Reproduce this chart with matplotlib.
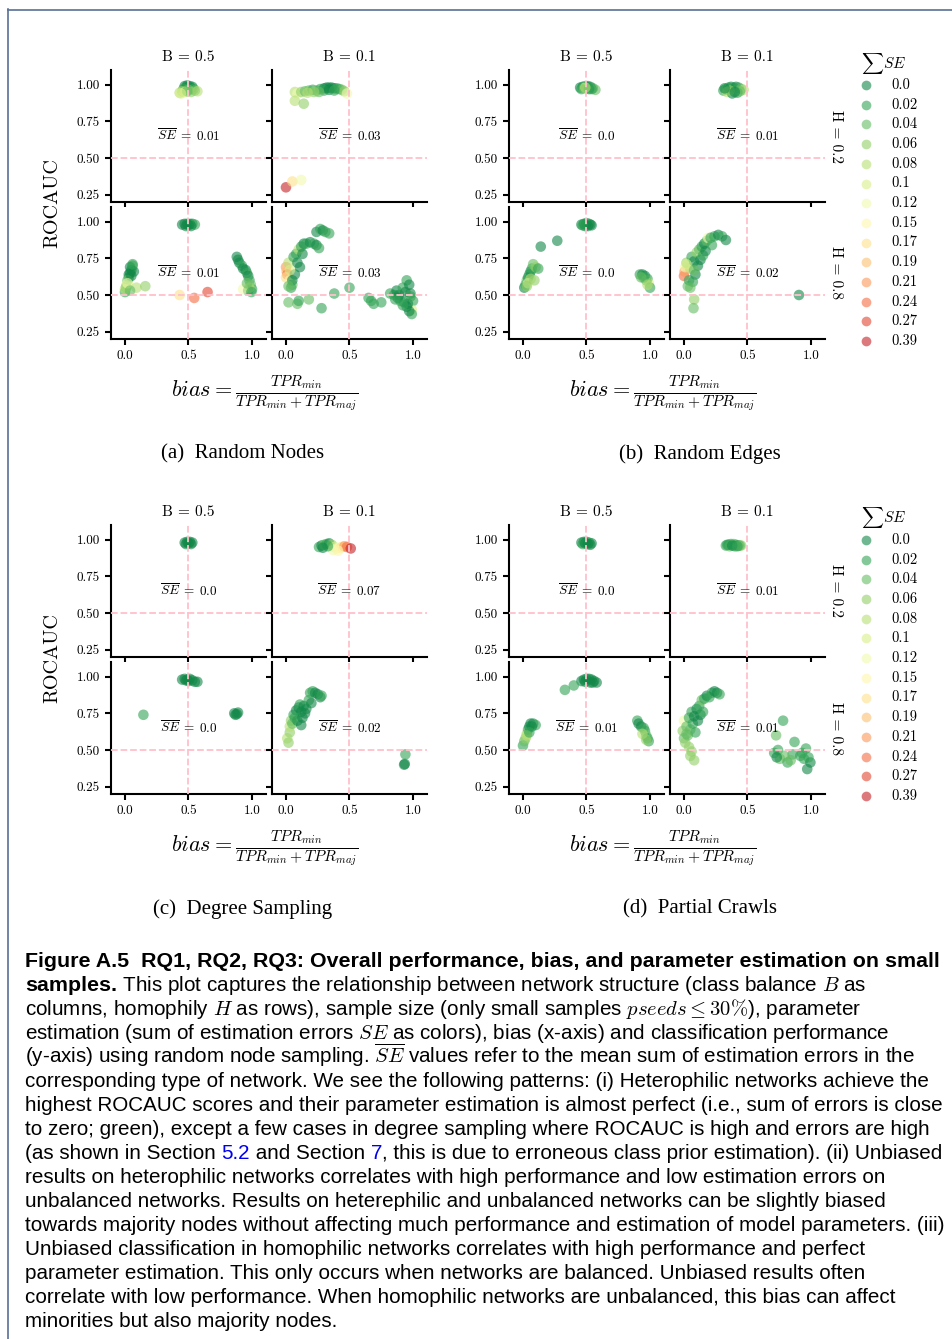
import matplotlib
matplotlib.use('Agg')
import matplotlib.pyplot as plt
import numpy as np
from matplotlib.lines import Line2D

W, H = 953, 1339
plt.rcParams['font.family'] = 'serif'
plt.rcParams['font.serif'] = ['cmr10']
plt.rcParams['mathtext.fontset'] = 'cm'
plt.rcParams['axes.formatter.use_mathtext'] = True
plt.rcParams['axes.unicode_minus'] = False

# ---------------- data ----------------
SE_LEVELS = [0.0, 0.02, 0.04, 0.06, 0.08, 0.1, 0.12, 0.15, 0.17, 0.19, 0.21, 0.24, 0.27, 0.39]
SE_LABELS = ['0.0', '0.02', '0.04', '0.06', '0.08', '0.1', '0.12', '0.15', '0.17', '0.19', '0.21', '0.24', '0.27', '0.39']
B_LEVELS = ['B = 0.5', 'B = 0.1']
H_LEVELS = ['H = 0.2', 'H = 0.8']
X_TICKS = [0.0, 0.5, 1.0]
X_TICKLABELS = ['0.0', '0.5', '1.0']
Y_TICKS = [0.25, 0.50, 0.75, 1.00]
Y_TICKLABELS = ['0.25', '0.50', '0.75', '1.00']

# Random Nodes
rn_h02_b05_x = [0.47, 0.49, 0.51, 0.53, 0.48, 0.50, 0.52, 0.46, 0.54, 0.50, 0.45, 0.55, 0.43, 0.47, 0.57, 0.52, 0.49, 0.44]
rn_h02_b05_y = [0.99, 0.995, 0.99, 0.985, 0.98, 0.975, 0.975, 0.97, 0.97, 0.965, 0.955, 0.96, 0.945, 0.95, 0.955, 0.95, 0.955, 0.94]
rn_h02_b05_se = [0.0, 0.0, 0.0, 0.0, 0.0, 0.02, 0.0, 0.02, 0.02, 0.04, 0.06, 0.04, 0.08, 0.1, 0.08, 0.06, 0.04, 0.1]

rn_h02_b01_x = [0.07, 0.09, 0.12, 0.15, 0.18, 0.21, 0.24, 0.27, 0.30, 0.32, 0.34, 0.36, 0.38, 0.40, 0.42, 0.44, 0.46, 0.48, 0.30, 0.34, 0.38, 0.26, 0.22, 0.17, 0.07, 0.14, 0.0, 0.05, 0.12]
rn_h02_b01_y = [0.95, 0.94, 0.95, 0.955, 0.96, 0.965, 0.96, 0.97, 0.975, 0.98, 0.98, 0.98, 0.975, 0.975, 0.97, 0.965, 0.955, 0.94, 0.96, 0.965, 0.96, 0.95, 0.95, 0.945, 0.89, 0.87, 0.30, 0.34, 0.35]
rn_h02_b01_se = [0.08, 0.12, 0.06, 0.04, 0.04, 0.02, 0.04, 0.02, 0.0, 0.0, 0.0, 0.0, 0.0, 0.02, 0.02, 0.04, 0.06, 0.12, 0.02, 0.0, 0.02, 0.04, 0.06, 0.08, 0.08, 0.06, 0.39, 0.17, 0.12]

rn_h08_b05_x = [0.45, 0.47, 0.49, 0.51, 0.53, 0.55, 0.48, 0.52, 0.50,
                0.0, 0.01, 0.02, 0.03, 0.04, 0.05, 0.06, 0.04, 0.03, 0.02, 0.05, 0.07, 0.06, 0.01, 0.0, 0.02, 0.09, 0.16, 0.04,
                0.43, 0.545, 0.65,
                0.88, 0.89, 0.90, 0.92, 0.93, 0.95, 0.96, 0.97, 0.98, 0.99, 1.0, 0.97, 0.93, 0.98, 0.995, 0.96]
rn_h08_b05_y = [0.98, 0.985, 0.985, 0.985, 0.985, 0.98, 0.97, 0.97, 0.975,
                0.52, 0.55, 0.58, 0.62, 0.65, 0.67, 0.70, 0.69, 0.64, 0.60, 0.63, 0.66, 0.71, 0.56, 0.54, 0.58, 0.55, 0.56, 0.53,
                0.50, 0.48, 0.52,
                0.76, 0.74, 0.72, 0.70, 0.68, 0.67, 0.65, 0.63, 0.60, 0.57, 0.54, 0.53, 0.54, 0.55, 0.52, 0.58]
rn_h08_b05_se = [0.0, 0.0, 0.0, 0.0, 0.0, 0.02, 0.0, 0.0, 0.0,
                 0.02, 0.04, 0.1, 0.02, 0.0, 0.0, 0.02, 0.0, 0.0, 0.04, 0.0, 0.0, 0.02, 0.06, 0.08, 0.12, 0.08, 0.06, 0.04,
                 0.17, 0.24, 0.27,
                 0.0, 0.0, 0.0, 0.02, 0.0, 0.0, 0.02, 0.0, 0.02, 0.04, 0.02, 0.0, 0.12, 0.08, 0.02, 0.04]

rn_h08_b01_x = [0.0, 0.005, 0.01, 0.0, 0.02, 0.03, 0.05, 0.06, 0.08, 0.10, 0.12, 0.14, 0.16, 0.19, 0.22, 0.24, 0.26, 0.24, 0.27, 0.29, 0.31, 0.34, 0.11, 0.07, 0.05, 0.04, 0.02, 0.09, 0.13, 0.03,
                0.02, 0.09, 0.10, 0.18, 0.28, 0.38, 0.50, 0.65, 0.67, 0.69, 0.75,
                0.82, 0.85, 0.87, 0.89, 0.92, 0.94, 0.95, 0.97, 0.98, 1.0, 0.99, 0.96, 0.93, 0.90, 0.88, 0.86, 0.99, 0.97, 0.95, 0.92, 0.98]
rn_h08_b01_y = [0.69, 0.66, 0.64, 0.62, 0.72, 0.60, 0.57, 0.76, 0.78, 0.81, 0.83, 0.85, 0.85, 0.86, 0.85, 0.84, 0.82, 0.93, 0.95, 0.94, 0.93, 0.92, 0.69, 0.64, 0.60, 0.55, 0.56, 0.72, 0.78, 0.67,
                0.45, 0.44, 0.46, 0.47, 0.41, 0.51, 0.55, 0.48, 0.46, 0.44, 0.45,
                0.51, 0.50, 0.53, 0.50, 0.55, 0.52, 0.60, 0.57, 0.51, 0.46, 0.40, 0.44, 0.45, 0.46, 0.48, 0.47, 0.37, 0.39, 0.42, 0.43, 0.49]
rn_h08_b01_se = [0.21, 0.19, 0.24, 0.17, 0.08, 0.12, 0.04, 0.02, 0.02, 0.08, 0.02, 0.0, 0.02, 0.0, 0.02, 0.0, 0.02, 0.0, 0.02, 0.0, 0.02, 0.02, 0.0, 0.0, 0.0, 0.02, 0.04, 0.0, 0.0, 0.1,
                 0.04, 0.04, 0.02, 0.04, 0.02, 0.02, 0.02, 0.02, 0.02, 0.02, 0.02,
                 0.02, 0.02, 0.0, 0.0, 0.02, 0.0, 0.02, 0.0, 0.0, 0.02, 0.1, 0.0, 0.0, 0.02, 0.0, 0.02, 0.02, 0.0, 0.0, 0.02, 0.02]

# Random Edges
re_h02_b05_x = [0.45, 0.47, 0.49, 0.51, 0.53, 0.55, 0.57, 0.48, 0.50, 0.52, 0.46, 0.54, 0.49]
re_h02_b05_y = [0.98, 0.985, 0.99, 0.99, 0.985, 0.975, 0.965, 0.975, 0.975, 0.97, 0.97, 0.97, 0.98]
re_h02_b05_se = [0.0, 0.0, 0.02, 0.0, 0.0, 0.02, 0.04, 0.1, 0.06, 0.0, 0.02, 0.02, 0.08]

re_h02_b01_x = [0.31, 0.33, 0.35, 0.37, 0.39, 0.41, 0.43, 0.45, 0.47, 0.34, 0.38, 0.42, 0.36, 0.44, 0.32, 0.40]
re_h02_b01_y = [0.96, 0.97, 0.98, 0.985, 0.98, 0.985, 0.98, 0.97, 0.965, 0.95, 0.94, 0.945, 0.96, 0.955, 0.975, 0.95]
re_h02_b01_se = [0.02, 0.04, 0.02, 0.0, 0.02, 0.0, 0.02, 0.04, 0.08, 0.08, 0.0, 0.02, 0.06, 0.04, 0.0, 0.0]

re_h08_b05_x = [0.46, 0.48, 0.50, 0.52, 0.54, 0.49, 0.51, 0.47, 0.53,
                0.14, 0.27,
                0.01, 0.02, 0.03, 0.04, 0.05, 0.06, 0.07, 0.08, 0.10, 0.12, 0.04, 0.06, 0.03, 0.09,
                0.92, 0.94, 0.96, 0.98, 0.99, 1.0, 0.97, 0.95, 0.98, 0.93]
re_h08_b05_y = [0.98, 0.985, 0.99, 0.985, 0.975, 0.97, 0.97, 0.975, 0.98,
                0.83, 0.87,
                0.55, 0.57, 0.60, 0.62, 0.64, 0.66, 0.68, 0.71, 0.69, 0.68, 0.58, 0.61, 0.56, 0.60,
                0.64, 0.64, 0.63, 0.61, 0.58, 0.55, 0.60, 0.62, 0.57, 0.62]
re_h08_b05_se = [0.0, 0.0, 0.0, 0.02, 0.0, 0.0, 0.0, 0.02, 0.0,
                 0.0, 0.0,
                 0.0, 0.02, 0.04, 0.0, 0.02, 0.0, 0.02, 0.04, 0.06, 0.02, 0.12, 0.08, 0.06, 0.06,
                 0.02, 0.0, 0.0, 0.02, 0.1, 0.02, 0.04, 0.02, 0.08, 0.04]

re_h08_b01_x = [0.0, 0.005, 0.01, 0.02, 0.03, 0.04, 0.05, 0.06, 0.08, 0.09, 0.10, 0.12, 0.14, 0.16, 0.18, 0.19, 0.21, 0.24, 0.27, 0.30, 0.33, 0.11, 0.13, 0.15, 0.07, 0.05, 0.02, 0.08, 0.17, 0.22,
                0.08, 0.075, 0.905]
re_h08_b01_y = [0.63, 0.66, 0.69, 0.72, 0.56, 0.60, 0.68, 0.76, 0.73, 0.64, 0.79, 0.81, 0.83, 0.85, 0.87, 0.89, 0.89, 0.90, 0.91, 0.90, 0.875, 0.70, 0.74, 0.77, 0.59, 0.55, 0.71, 0.67, 0.80, 0.84,
                0.47, 0.41, 0.50]
re_h08_b01_se = [0.24, 0.21, 0.12, 0.06, 0.04, 0.02, 0.08, 0.02, 0.0, 0.0, 0.06, 0.04, 0.02, 0.0, 0.04, 0.12, 0.02, 0.02, 0.0, 0.02, 0.0, 0.0, 0.0, 0.02, 0.02, 0.04, 0.1, 0.04, 0.0, 0.02,
                 0.06, 0.04, 0.0]

# Degree Sampling
ds_h02_b05_x = [0.47, 0.49, 0.51, 0.53, 0.48, 0.52, 0.50]
ds_h02_b05_y = [0.98, 0.985, 0.985, 0.98, 0.97, 0.97, 0.975]
ds_h02_b05_se = [0.0, 0.0, 0.0, 0.0, 0.0, 0.0, 0.0]

ds_h02_b01_x = [0.26, 0.28, 0.30, 0.32, 0.34, 0.36, 0.38, 0.40, 0.42, 0.44, 0.46, 0.48, 0.51, 0.37, 0.41, 0.33, 0.29]
ds_h02_b01_y = [0.95, 0.96, 0.965, 0.97, 0.975, 0.965, 0.95, 0.94, 0.945, 0.95, 0.955, 0.95, 0.94, 0.93, 0.925, 0.955, 0.945]
ds_h02_b01_se = [0.02, 0.0, 0.04, 0.02, 0.0, 0.06, 0.1, 0.12, 0.15, 0.17, 0.21, 0.24, 0.39, 0.12, 0.15, 0.02, 0.0]

ds_h08_b05_x = [0.145, 0.45, 0.47, 0.49, 0.51, 0.53, 0.55, 0.57, 0.50, 0.48, 0.86, 0.88, 0.89, 0.87]
ds_h08_b05_y = [0.74, 0.98, 0.985, 0.98, 0.985, 0.975, 0.965, 0.965, 0.97, 0.975, 0.75, 0.745, 0.755, 0.74]
ds_h08_b05_se = [0.02, 0.0, 0.0, 0.0, 0.0, 0.0, 0.0, 0.0, 0.0, 0.0, 0.0, 0.0, 0.0, 0.0]

ds_h08_b01_x = [0.01, 0.02, 0.03, 0.03, 0.04, 0.05, 0.06, 0.08, 0.10, 0.11, 0.12, 0.14, 0.16, 0.18, 0.19, 0.21, 0.23, 0.25, 0.27, 0.28, 0.09, 0.12, 0.07, 0.15, 0.20, 0.13,
                0.94, 0.93, 0.935]
ds_h08_b01_y = [0.58, 0.55, 0.62, 0.66, 0.70, 0.68, 0.74, 0.77, 0.79, 0.81, 0.76, 0.80, 0.78, 0.84, 0.89, 0.90, 0.89, 0.88, 0.86, 0.87, 0.70, 0.67, 0.72, 0.75, 0.82, 0.72,
                0.47, 0.40, 0.405]
ds_h08_b01_se = [0.08, 0.06, 0.06, 0.08, 0.06, 0.04, 0.02, 0.0, 0.0, 0.02, 0.0, 0.0, 0.0, 0.02, 0.02, 0.02, 0.0, 0.0, 0.0, 0.02, 0.0, 0.0, 0.02, 0.0, 0.0, 0.0,
                 0.02, 0.0, 0.0]

# Partial Crawls
pc_h02_b05_x = [0.46, 0.48, 0.50, 0.52, 0.54, 0.47, 0.51, 0.53, 0.49]
pc_h02_b05_y = [0.98, 0.985, 0.985, 0.98, 0.975, 0.97, 0.97, 0.965, 0.975]
pc_h02_b05_se = [0.0, 0.0, 0.0, 0.02, 0.0, 0.02, 0.0, 0.0, 0.0]

pc_h02_b01_x = [0.33, 0.35, 0.37, 0.39, 0.41, 0.43, 0.45, 0.36, 0.40, 0.44, 0.34, 0.38, 0.42]
pc_h02_b01_y = [0.96, 0.965, 0.97, 0.97, 0.965, 0.96, 0.96, 0.955, 0.955, 0.96, 0.965, 0.96, 0.955]
pc_h02_b01_se = [0.02, 0.0, 0.02, 0.04, 0.02, 0.0, 0.06, 0.04, 0.02, 0.04, 0.02, 0.0, 0.02]

pc_h08_b05_x = [0.46, 0.48, 0.50, 0.52, 0.54, 0.56, 0.58, 0.49, 0.53, 0.55, 0.33, 0.40,
                0.0, 0.01, 0.02, 0.03, 0.04, 0.05, 0.06, 0.08, 0.10, 0.07, 0.03, 0.05,
                0.90, 0.91, 0.93, 0.95, 0.96, 0.97, 0.98, 0.99, 0.94, 0.97]
pc_h08_b05_y = [0.97, 0.98, 0.985, 0.985, 0.98, 0.97, 0.96, 0.965, 0.96, 0.96, 0.91, 0.94,
                0.53, 0.56, 0.58, 0.61, 0.64, 0.66, 0.68, 0.68, 0.67, 0.66, 0.60, 0.62,
                0.70, 0.68, 0.66, 0.65, 0.63, 0.60, 0.58, 0.56, 0.61, 0.57]
pc_h08_b05_se = [0.0, 0.0, 0.0, 0.0, 0.0, 0.0, 0.0, 0.0, 0.0, 0.0, 0.02, 0.02,
                 0.02, 0.04, 0.06, 0.08, 0.02, 0.0, 0.0, 0.0, 0.02, 0.0, 0.08, 0.02,
                 0.02, 0.0, 0.0, 0.02, 0.02, 0.04, 0.02, 0.02, 0.08, 0.06]

pc_h08_b01_x = [0.0, -0.01, 0.0, 0.01, 0.02, 0.03, 0.04, 0.05, 0.06, 0.07, 0.08, 0.10, 0.12, 0.14, 0.16, 0.18, 0.20, 0.22, 0.24, 0.26, 0.28, 0.09, 0.11, 0.13, 0.15, 0.04, 0.06, 0.02, 0.05, 0.08,
                0.78, 0.725, 0.71, 0.755, 0.815, 0.87, 0.96, 0.945, 0.995, 0.855, 0.915, 0.97, 0.74, 0.79, 0.84, 0.93, 0.98, 0.73]
pc_h08_b01_y = [0.70, 0.63, 0.58, 0.55, 0.66, 0.60, 0.72, 0.64, 0.76, 0.68, 0.73, 0.78, 0.80, 0.84, 0.85, 0.87, 0.86, 0.89, 0.90, 0.89, 0.88, 0.62, 0.70, 0.74, 0.76, 0.52, 0.49, 0.61, 0.46, 0.43,
                0.70, 0.60, 0.48, 0.44, 0.415, 0.555, 0.51, 0.44, 0.415, 0.47, 0.46, 0.37, 0.50, 0.46, 0.43, 0.48, 0.45, 0.45]
pc_h08_b01_se = [0.12, 0.06, 0.04, 0.06, 0.04, 0.04, 0.02, 0.04, 0.02, 0.02, 0.0, 0.0, 0.02, 0.04, 0.02, 0.0, 0.02, 0.02, 0.0, 0.0, 0.02, 0.02, 0.0, 0.0, 0.02, 0.06, 0.06, 0.04, 0.06, 0.06,
                 0.02, 0.04, 0.02, 0.04, 0.02, 0.02, 0.02, 0.02, 0.0, 0.02, 0.02, 0.0, 0.02, 0.04, 0.04, 0.02, 0.02, 0.0]

# mean SE annotations [row H][col B]
rn_se_mean = [['0.01', '0.03'], ['0.01', '0.03']]
re_se_mean = [['0.0', '0.01'], ['0.0', '0.02']]
ds_se_mean = [['0.0', '0.07'], ['0.0', '0.02']]
pc_se_mean = [['0.0', '0.01'], ['0.01', '0.01']]

# ---------------- figure ----------------
fig = plt.figure(figsize=(W / 100, H / 100), dpi=100)

cmap = plt.get_cmap('RdYlGn_r')
palette = cmap(np.linspace(0, 1, len(SE_LEVELS) + 2)[1:-1])
ALPHA = 0.6


def se_colors(values):
    lv = np.array(SE_LEVELS)
    return [palette[int(np.argmin(np.abs(lv - v)))] for v in values]


def fx(x):
    return x / W


def fy(y):
    return 1 - y / H


groups = [
    dict(label='(a)  Random Nodes', dx=0, dy=0, ylabel=True, side=False, means=rn_se_mean,
         panels=[[(rn_h02_b05_x, rn_h02_b05_y, rn_h02_b05_se), (rn_h02_b01_x, rn_h02_b01_y, rn_h02_b01_se)],
                 [(rn_h08_b05_x, rn_h08_b05_y, rn_h08_b05_se), (rn_h08_b01_x, rn_h08_b01_y, rn_h08_b01_se)]]),
    dict(label='(b)  Random Edges', dx=398, dy=0, ylabel=False, side=True, means=re_se_mean,
         panels=[[(re_h02_b05_x, re_h02_b05_y, re_h02_b05_se), (re_h02_b01_x, re_h02_b01_y, re_h02_b01_se)],
                 [(re_h08_b05_x, re_h08_b05_y, re_h08_b05_se), (re_h08_b01_x, re_h08_b01_y, re_h08_b01_se)]]),
    dict(label='(c)  Degree Sampling', dx=0, dy=455, ylabel=True, side=False, means=ds_se_mean,
         panels=[[(ds_h02_b05_x, ds_h02_b05_y, ds_h02_b05_se), (ds_h02_b01_x, ds_h02_b01_y, ds_h02_b01_se)],
                 [(ds_h08_b05_x, ds_h08_b05_y, ds_h08_b05_se), (ds_h08_b01_x, ds_h08_b01_y, ds_h08_b01_se)]]),
    dict(label='(d)  Partial Crawls', dx=398, dy=455, ylabel=False, side=True, means=pc_se_mean,
         panels=[[(pc_h02_b05_x, pc_h02_b05_y, pc_h02_b05_se), (pc_h02_b01_x, pc_h02_b01_y, pc_h02_b01_se)],
                 [(pc_h08_b05_x, pc_h08_b05_y, pc_h08_b05_se), (pc_h08_b01_x, pc_h08_b01_y, pc_h08_b01_se)]]),
]

COLS = [(111, 266), (272, 427)]
ROWS = [(70, 202), (207, 339)]
TICK_FS = 9.5

for g in groups:
    dx, dy = g['dx'], g['dy']
    for r in range(2):
        for c in range(2):
            x0, x1 = COLS[c][0] + dx, COLS[c][1] + dx
            y0, y1 = ROWS[r][0] + dy, ROWS[r][1] + dy
            ax = fig.add_axes([fx(x0), fy(y1), (x1 - x0) / W, (y1 - y0) / H])
            xs, ys, ses = g['panels'][r][c]
            ax.scatter(xs, ys, s=58, c=se_colors(ses), alpha=ALPHA, linewidths=0, zorder=2)
            ax.axvline(0.5, color='pink', ls='--', lw=1.3, zorder=3)
            ax.axhline(0.5, color='pink', ls='--', lw=1.3, zorder=3)
            ax.set_xlim(-0.11, 1.11)
            ax.set_ylim(0.2, 1.1)
            ax.set_xticks(X_TICKS)
            ax.set_yticks(Y_TICKS)
            ax.set_xticklabels(X_TICKLABELS if r == 1 else [])
            ax.set_yticklabels(Y_TICKLABELS if c == 0 else [])
            for s in ['top', 'right']:
                ax.spines[s].set_visible(False)
            for s in ['left', 'bottom']:
                ax.spines[s].set_linewidth(1.5)
            ax.tick_params(direction='out', length=4, width=1.5, labelsize=TICK_FS, pad=4)
            ax.text(0.5, 0.5, r'$\overline{SE}\;=\;\mathrm{' + g['means'][r][c] + '}$', transform=ax.transAxes,
                    ha='center', va='center', fontsize=9.5, zorder=4)
            if r == 0:
                fig.text(fx((x0 + x1) / 2), fy(57 + dy), B_LEVELS[c], ha='center', va='center', fontsize=11)
            if c == 1 and g['side']:
                fig.text(fx(836), fy((y0 + y1) / 2), H_LEVELS[r], rotation=270, ha='center', va='center',
                         fontsize=11)
    if g['ylabel']:
        fig.text(fx(52), fy(203 + dy), 'ROCAUC', rotation=90, ha='center', va='center', fontsize=14.5)
    gx = (COLS[0][0] + COLS[1][1]) / 2 + dx - 4
    fig.text(fx(gx), fy(394 + dy), r'$bias = \frac{TPR_{min}}{TPR_{min}+TPR_{maj}}$', ha='center',
             va='center', fontsize=16)
    fig.text(fx(243 + dx * 1.149), fy(454 + dy), g['label'], family='Liberation Serif', fontsize=15,
             ha='center', va='center')
    if g['side']:
        fig.text(fx(884), fy(63 + dy), r'$\sum SE$', ha='center', va='center', fontsize=11)
        for i, lab in enumerate(SE_LABELS):
            yy = 85 + 19.7 * i + dy
            fig.add_artist(Line2D([fx(866)], [fy(yy)], marker='o', ms=7, ls='none', mew=0,
                                  color=palette[i], alpha=ALPHA, transform=fig.transFigure))
            fig.text(fx(891), fy(yy), lab, ha='left', va='center', fontsize=10.5)

# border lines
fig.add_artist(Line2D([fx(8), 1], [fy(9.5), fy(9.5)], color='#5a6f96', lw=1.2, transform=fig.transFigure))
fig.add_artist(Line2D([fx(8.5), fx(8.5)], [fy(9), 0], color='#5a6f96', lw=1.2, transform=fig.transFigure))

# ---------------- caption ----------------
renderer = fig.canvas.get_renderer()
CAP_FS = 14.85
reg = dict(family='Liberation Sans', fontsize=CAP_FS, color='black')
bold = dict(family='Liberation Sans', fontsize=15.4, color='black', weight='bold')
blue = dict(family='Liberation Sans', fontsize=CAP_FS, color='#0000ee')


def seg_width(s, kw):
    t1 = fig.text(0, 0, '|' + s + '|', **kw)
    w1 = t1.get_window_extent(renderer).width
    t1.remove()
    t2 = fig.text(0, 0, '||', **kw)
    w2 = t2.get_window_extent(renderer).width
    t2.remove()
    return w1 - w2


caption_lines = [
    [('Figure A.5  RQ1, RQ2, RQ3: Overall performance, bias, and parameter estimation on small', bold)],
    [('samples.', bold), (' This plot captures the relationship between network structure (class balance $B$ as', reg)],
    [('columns, homophily $H$ as rows), sample size (only small samples $pseeds \\leq 30\\%$), parameter', reg)],
    [('estimation (sum of estimation errors $SE$ as colors), bias (x-axis) and classification performance', reg)],
    [('(y-axis) using random node sampling. $\\overline{SE}$ values refer to the mean sum of estimation errors in the', reg)],
    [('corresponding type of network. We see the following patterns: (i) Heterophilic networks achieve the', reg)],
    [('highest ROCAUC scores and their parameter estimation is almost perfect (i.e., sum of errors is close', reg)],
    [('to zero; green), except a few cases in degree sampling where ROCAUC is high and errors are high', reg)],
    [('(as shown in Section ', reg), ('5.2', blue), (' and Section ', reg), ('7', blue),
     (', this is due to erroneous class prior estimation). (ii) Unbiased', reg)],
    [('results on heterophilic networks correlates with high performance and low estimation errors on', reg)],
    [('unbalanced networks. Results on heterephilic and unbalanced networks can be slightly biased', reg)],
    [('towards majority nodes without affecting much performance and estimation of model parameters. (iii)', reg)],
    [('Unbiased classification in homophilic networks correlates with high performance and perfect', reg)],
    [('parameter estimation. This only occurs when networks are balanced. Unbiased results often', reg)],
    [('correlate with low performance. When homophilic networks are unbalanced, this bias can affect', reg)],
    [('minorities but also majority nodes.', reg)],
]

for i, segs in enumerate(caption_lines):
    x = 25.0
    yb = 967 + 24 * i
    for s, kw in segs:
        fig.text(fx(x), fy(yb), s, ha='left', va='baseline', **kw)
        x += seg_width(s, kw)

fig.savefig('out.png', dpi=100)
